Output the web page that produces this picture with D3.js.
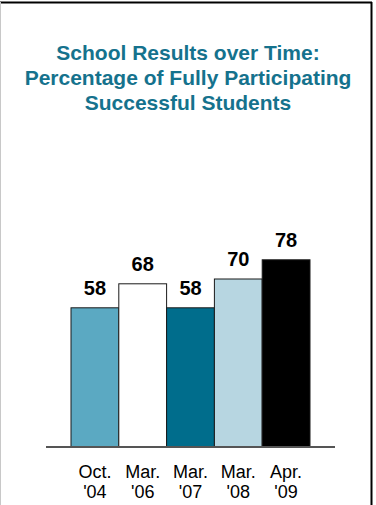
<!DOCTYPE html>
<html>
<head>
<meta charset="utf-8">
<script src="https://cdn.jsdelivr.net/npm/d3@7"></script>
<style>
  html, body { margin: 0; padding: 0; background: #fff; }
  svg { display: block; }
</style>
</head>
<body>
<svg id="chart" width="376" height="505"></svg>
<script>
const titleLines = ["School Results over Time:", "Percentage of Fully Participating", "Successful Students"];
const categoriesTop = ["Oct.", "Mar.", "Mar.", "Mar.", "Apr."];
const categoriesBottom = ["'04", "'06", "'07", "'08", "'09"];
const categories = ["Oct. '04", "Mar. '06", "Mar. '07", "Mar. '08", "Apr. '09"];
const values = [58, 68, 58, 70, 78];
const barColors = ["#5ba9c2", "#ffffff", "#006d8c", "#b7d6e1", "#000000"];

const svg = d3.select("#chart");

// frame
svg.append("line").attr("x1", 0).attr("x2", 372).attr("y1", 2.5).attr("y2", 2.5)
  .attr("stroke", "#000").attr("stroke-width", 2);
svg.append("line").attr("x1", 0.5).attr("x2", 0.5).attr("y1", 2).attr("y2", 505)
  .attr("stroke", "#c8c8c8").attr("stroke-width", 1);
svg.append("line").attr("x1", 371.5).attr("x2", 371.5).attr("y1", 2).attr("y2", 505)
  .attr("stroke", "#000").attr("stroke-width", 2);

// title
svg.append("text")
  .attr("text-anchor", "middle")
  .attr("font-family", "Liberation Sans, Arial, sans-serif")
  .attr("font-weight", "bold")
  .attr("font-size", 21)
  .attr("fill", "#15728d")
  .selectAll("tspan").data(titleLines).join("tspan")
  .attr("x", 188).attr("y", (d, i) => 60 + i * 25)
  .text(d => d);

const x = d3.scaleBand().domain(categories).range([71, 310]).padding(0);
const y = d3.scaleLinear().domain([0, 100]).range([447, 207]);

svg.append("g").selectAll("rect").data(values).join("rect")
  .attr("x", (d, i) => x(categories[i]))
  .attr("y", d => y(d))
  .attr("width", x.bandwidth())
  .attr("height", d => y(0) - y(d))
  .attr("fill", (d, i) => barColors[i])
  .attr("stroke", "#1a1a1a")
  .attr("stroke-width", 1);

// baseline
svg.append("line").attr("x1", 46).attr("x2", 335).attr("y1", y(0)).attr("y2", y(0))
  .attr("stroke", "#555").attr("stroke-width", 2);

// value labels
svg.append("g").selectAll("text").data(values).join("text")
  .attr("x", (d, i) => x(categories[i]) + x.bandwidth() / 2)
  .attr("y", d => y(d) - 13)
  .attr("text-anchor", "middle")
  .attr("font-family", "Liberation Sans, Arial, sans-serif")
  .attr("font-weight", "bold")
  .attr("font-size", 20)
  .attr("fill", "#000")
  .text(d => d);

// category labels
const cat = svg.append("g").selectAll("text").data(categories).join("text")
  .attr("text-anchor", "middle")
  .attr("font-family", "Liberation Sans, Arial, sans-serif")
  .attr("font-size", 18)
  .attr("fill", "#000");
cat.append("tspan").attr("x", d => x(d) + x.bandwidth() / 2).attr("y", 478)
  .text((d, i) => categoriesTop[i]);
cat.append("tspan").attr("x", d => x(d) + x.bandwidth() / 2).attr("y", 498)
  .text((d, i) => categoriesBottom[i]);
</script>
</body>
</html>
